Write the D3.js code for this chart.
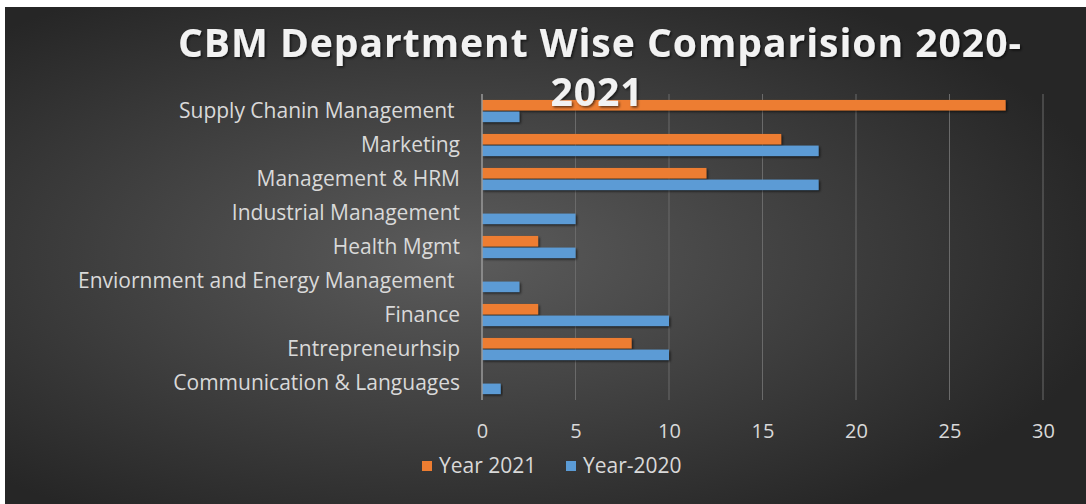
<!DOCTYPE html>
<html>
<head>
<meta charset="utf-8">
<script src="https://cdn.jsdelivr.net/npm/d3@7"></script>
<style>
  html, body { margin: 0; padding: 0; background: #fff; }
  svg text { font-family: "Open Sans", Lato, sans-serif; }
</style>
</head>
<body>
<svg id="chart" width="1086" height="504"></svg>
<script>
// data
const departments = [
  "Supply Chanin Management ",
  "Marketing",
  "Management & HRM",
  "Industrial Management",
  "Health Mgmt",
  "Enviornment and Energy Management ",
  "Finance",
  "Entrepreneurhsip",
  "Communication & Languages"
]
const year2021 = [28, 16, 12, 0, 3, 0, 3, 8, 0]
const year2020 = [2, 18, 18, 5, 5, 2, 10, 10, 1]
const seriesNames = ["Year 2021", "Year-2020"]
const xTicks = [0, 5, 10, 15, 20, 25, 30]

const colors = ["#ED7D31", "#5B9BD5"]

const svg = d3.select("#chart")

// background with a soft radial light
const defs = svg.append("defs")
const grad = defs.append("radialGradient").attr("id", "bg")
  .attr("cx", "42%").attr("cy", "50%").attr("r", "62%")
grad.append("stop").attr("offset", "0%").attr("stop-color", "#5c5c5c")
grad.append("stop").attr("offset", "100%").attr("stop-color", "#262626")

const shadow = defs.append("filter").attr("id", "shadow")
  .attr("x", "-5%").attr("y", "-20%").attr("width", "115%").attr("height", "160%")
shadow.append("feDropShadow").attr("dx", 1.5).attr("dy", 1.5)
  .attr("stdDeviation", 1.2).attr("flood-color", "#000").attr("flood-opacity", 0.6)

svg.append("rect").attr("x", 5).attr("y", 7).attr("width", 1081).attr("height", 497)
  .attr("fill", "url(#bg)")

// scales
const x = d3.scaleLinear().domain([0, 30]).range([482, 1043])
const y0 = d3.scaleBand().domain(departments).range([94, 400])
  .paddingInner(0.35).paddingOuter(0.175)
const y1 = d3.scaleBand().domain(seriesNames).range([0, y0.bandwidth()]).paddingInner(0.1)

// gridlines
svg.append("g")
  .selectAll("line")
  .data(xTicks.slice(1))
  .join("line")
  .attr("x1", d => x(d)).attr("x2", d => x(d))
  .attr("y1", 94).attr("y2", 400)
  .attr("stroke", "#6a6a6a").attr("stroke-width", 1)

// bars
const rows = departments.map((d, i) => ({ dept: d, values: [year2021[i], year2020[i]] }))
const groups = svg.append("g").selectAll("g")
  .data(rows)
  .join("g")
  .attr("transform", d => `translate(0,${y0(d.dept)})`)

groups.selectAll("rect")
  .data(d => d.values.map((v, k) => ({ name: seriesNames[k], value: v, k: k })))
  .join("rect")
  .filter(d => d.value > 0)
  .attr("x", x(0))
  .attr("y", d => y1(d.name))
  .attr("width", d => x(d.value) - x(0))
  .attr("height", y1.bandwidth())
  .attr("fill", d => colors[d.k])
  .attr("filter", "url(#shadow)")

// value axis line
svg.append("line")
  .attr("x1", x(0)).attr("x2", x(0)).attr("y1", 94).attr("y2", 400)
  .attr("stroke", "#9a9a9a").attr("stroke-width", 1.5)

// x tick labels
const xAxis = svg.append("g").attr("transform", "translate(0,400)")
  .call(d3.axisBottom(x).tickValues(xTicks).tickSize(0).tickPadding(24))
xAxis.select(".domain").remove()
xAxis.selectAll("text").attr("fill", "#d9d9d9").style("font-size", "20px")

// category labels
const yAxis = svg.append("g").attr("transform", `translate(${x(0)},0)`)
  .call(d3.axisLeft(y0).tickSize(0).tickPadding(22))
yAxis.select(".domain").remove()
yAxis.selectAll("text").attr("fill", "#d9d9d9").style("font-size", "21px")
  .style("white-space", "pre")
  .attr("dy", "0.35em")

// title
const title = svg.append("g").attr("fill", "#f2f2f2").attr("filter", "url(#shadow)")
  .style("font-weight", "bold").style("font-size", "39px").style("letter-spacing", "1px")
  .attr("text-anchor", "middle")
title.append("text").attr("x", 600).attr("y", 57).text("CBM Department Wise Comparision 2020-")
title.append("text").attr("x", 597).attr("y", 106).text("2021")

// legend
const legend = svg.append("g").selectAll("g")
  .data(seriesNames)
  .join("g")
  .attr("transform", (d, i) => `translate(${[422, 566][i]},466)`)
legend.append("rect").attr("x", 0).attr("y", -5).attr("width", 10).attr("height", 10)
  .attr("fill", (d, i) => colors[i])
legend.append("text").attr("x", 17).attr("y", 0).attr("dy", "0.35em")
  .attr("fill", "#d9d9d9").style("font-size", "21px").text(d => d)
</script>
</body>
</html>
